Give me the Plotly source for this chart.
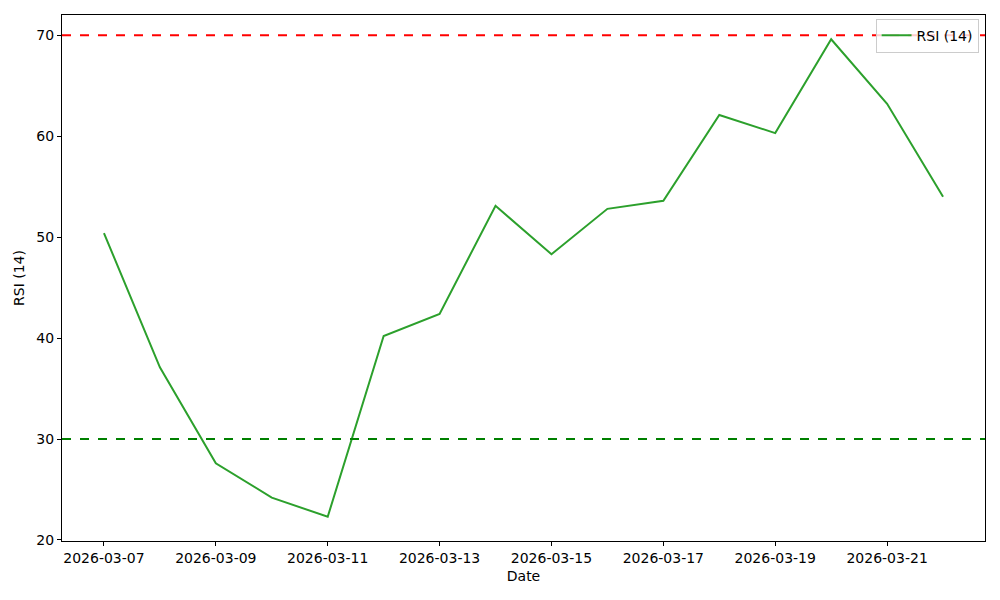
import plotly.graph_objects as go

dates = ["2026-03-07", "2026-03-08", "2026-03-09", "2026-03-10", "2026-03-11",
         "2026-03-12", "2026-03-13", "2026-03-14", "2026-03-15", "2026-03-16",
         "2026-03-17", "2026-03-18", "2026-03-19", "2026-03-20", "2026-03-21",
         "2026-03-22"]
rsi = [50.4, 37.1, 27.6, 24.2, 22.3, 40.2, 42.4, 53.1, 48.3, 52.8,
       53.6, 62.1, 60.3, 69.6, 63.2, 54.0]
overbought = 70
oversold = 30

fig = go.Figure()
fig.add_trace(go.Scatter(x=dates, y=rsi, mode="lines", name="RSI (14)",
                         line=dict(color="#2ca02c", width=2)))

fig.add_hline(y=overbought, line=dict(color="red", width=2, dash="dash"))
fig.add_hline(y=oversold, line=dict(color="green", width=2, dash="dash"))

fs = 14
axis_style = dict(showline=True, linecolor="black", linewidth=1, mirror=True,
                  ticks="outside", ticklen=4, tickcolor="black",
                  showgrid=False, zeroline=False, automargin=False,
                  tickfont=dict(size=fs))

fig.update_layout(
    width=1000, height=600,
    paper_bgcolor="white", plot_bgcolor="white",
    font=dict(family="DejaVu Sans", size=fs, color="black"),
    margin=dict(l=62, r=15, t=15, b=59),
    showlegend=True,
    legend=dict(x=0.993, y=0.993, xanchor="right", yanchor="top",
                bordercolor="#cccccc", borderwidth=1,
                bgcolor="rgba(255,255,255,0.8)", font=dict(size=fs)),
    xaxis=dict(title=dict(text="Date", standoff=6, font=dict(size=fs)),
               range=["2026-03-06 06:00", "2026-03-22 18:00"],
               tickformat="%Y-%m-%d", dtick=2 * 86400000,
               tick0="2026-03-07", **axis_style),
    yaxis=dict(title=dict(text="RSI (14)", standoff=8, font=dict(size=fs)),
               range=[19.9, 72.0], dtick=10, **axis_style),
)

# page body has a default 8px margin; drop it so the figure sits at the corner
fig.write_html("out.html", config={"displayModeBar": False},
               post_script="document.body.style.margin='0';")
